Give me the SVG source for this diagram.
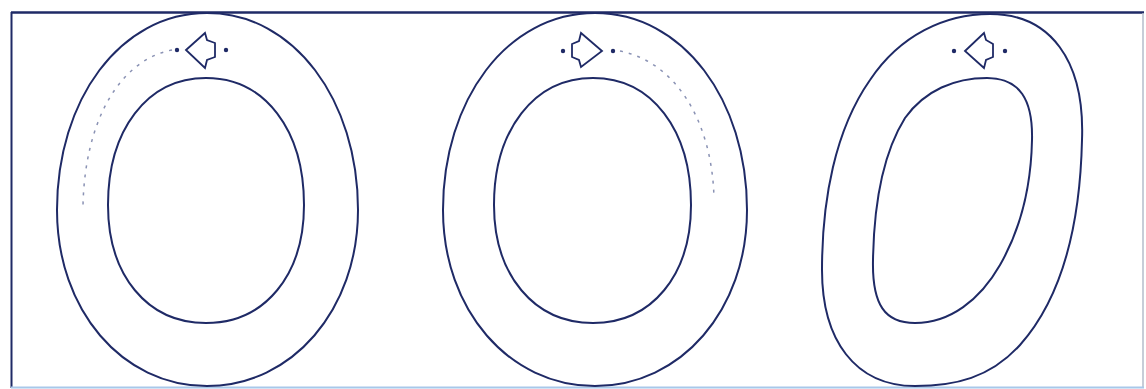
<svg xmlns="http://www.w3.org/2000/svg" width="1146" height="389" viewBox="0 0 1146 389">
<style>
.ln{fill:none;stroke:#1f2a66;stroke-width:2;stroke-linejoin:round}
.ar{fill:#ffffff;stroke:#1f2a66;stroke-width:1.8;stroke-linejoin:miter}
.dt{fill:#1f2a66}
.ds{fill:none;stroke:#8a92b4;stroke-width:1.5;stroke-dasharray:3 6}
</style>
<rect x="0" y="0" width="1146" height="389" fill="#ffffff"/>
<g id="frame">
<line x1="11" y1="12.5" x2="1144" y2="12.5" stroke="#1f2a66" stroke-width="2.5"/>
<line x1="11.5" y1="12" x2="11.5" y2="388" stroke="#1f2a66" stroke-width="2"/>
<line x1="1143" y1="13" x2="1143" y2="388" stroke="#b4bccb" stroke-width="1.5"/>
<line x1="11" y1="387.5" x2="1144" y2="387.5" stroke="#a8c8ea" stroke-width="2"/>
</g>
<g id="zero1">
<path class="ln" d="M207,13 C294,13 358,100 358,210 C358,310 292,386 207,386 C122,386 57,310 57,210 C57,100 120,13 207,13 Z"/>
<path class="ln" d="M206,78 C265,78 304,130 304,205 C304,275 265,323 206,323 C147,323 108,275 108,205 C108,130 147,78 206,78 Z"/>
<path class="ds" d="M172,50 C120,60 85,120 83,205"/>
<circle class="dt" cx="177" cy="50" r="2.2"/>
<circle class="dt" cx="226" cy="50" r="2.2"/>
<path class="ar" d="M186,50 L205,33 L207,40 L215,43 L215,57 L207,60 L205,68 Z"/>
</g>
<g id="zero2">
<path class="ln" d="M595,13 C683,13 747,100 747,210 C747,310 681,386 595,386 C509,386 443,310 443,210 C443,100 507,13 595,13 Z"/>
<path class="ln" d="M593,78 C652,78 691,130 691,205 C691,275 652,323 593,323 C534,323 494,275 494,205 C494,130 534,78 593,78 Z"/>
<path class="ds" d="M620,51 C675,62 712,120 714,198"/>
<circle class="dt" cx="563" cy="51" r="2.2"/>
<circle class="dt" cx="613" cy="51" r="2.2"/>
<path class="ar" d="M602,51 L581,33 L579,41 L572,44 L572,57 L579,60 L581,67 Z"/>
</g>
<g id="zero3">
<path class="ln" d="M990,14 C1050,14 1085,60 1082,140 C1080,230 1060,300 1020,345 C990,378 955,386 915,386 C855,386 822,340 822,270 C822,200 835,130 870,80 C900,35 945,14 990,14 Z"/>
<path class="ln" d="M987,78 C1020,78 1033,100 1032,140 C1031,190 1020,230 1000,265 C980,300 950,323 915,323 C885,323 872,305 873,260 C874,200 885,150 905,118 C925,90 955,78 987,78 Z"/>
<circle class="dt" cx="954" cy="51" r="2.2"/>
<circle class="dt" cx="1005" cy="51" r="2.2"/>
<path class="ar" d="M965,51 L984,33 L986,40 L993,44 L993,57 L986,60 L984,68 Z"/>
</g>
</svg>
